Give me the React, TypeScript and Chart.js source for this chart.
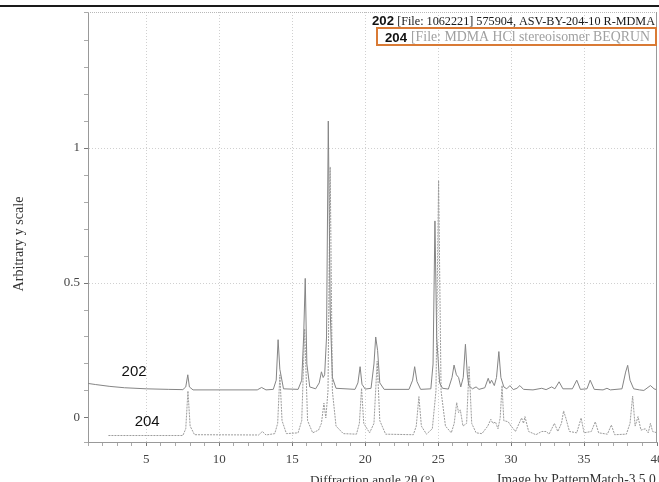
import React, { useEffect, useRef } from 'react';
import { Chart, registerables } from 'chart.js';

Chart.register(...registerables);

// ---- Data ----
const angles202 = [
  1.0, 1.5, 2.5, 3.5, 5, 6.5, 7.5, 7.7, 7.84, 7.95, 8.2, 12.6, 12.9, 13.2, 13.7, 13.9, 14.03, 14.15, 14.4,
  15.4, 15.65, 15.78, 15.89, 16.0, 16.2, 16.6, 16.85, 17.0, 17.12, 17.22, 17.35, 17.47, 17.6, 17.75, 18.0,
  19.3, 19.5, 19.65, 19.78, 20.0, 20.4, 20.6, 20.72, 20.85, 21.0, 21.3, 23.0, 23.25, 23.39, 23.55, 23.8,
  24.5, 24.65, 24.78, 24.9, 25.1, 25.3, 25.7, 25.95, 26.09, 26.25, 26.4, 26.55, 26.72, 26.87, 27.0, 27.1,
  27.35, 27.6, 27.8, 28.2, 28.43, 28.55, 28.66, 28.85, 29.0, 29.16, 29.3, 29.5, 29.7, 29.92, 30.15, 30.4,
  30.6, 30.85, 31.5, 32.1, 32.4, 32.78, 33.0, 33.29, 33.55, 34.2, 34.5, 34.75, 35.2, 35.42, 35.7, 36.3,
  36.57, 36.8, 37.6, 37.85, 37.99, 38.15, 38.4, 38.8, 39.1, 39.55, 39.8, 40.0,
];
const intensity202 = [
  0.128, 0.124, 0.117, 0.112, 0.108, 0.106, 0.105, 0.115, 0.16, 0.115, 0.104, 0.104, 0.113, 0.104, 0.106, 0.14, 0.29, 0.18, 0.108,
  0.106, 0.14, 0.3, 0.517, 0.2, 0.115, 0.108, 0.13, 0.171, 0.15, 0.16, 0.3, 1.1, 0.4, 0.15, 0.11,
  0.106, 0.13, 0.19, 0.125, 0.107, 0.11, 0.2, 0.3, 0.25, 0.13, 0.106, 0.106, 0.14, 0.19, 0.135, 0.106,
  0.108, 0.2, 0.73, 0.3, 0.13, 0.11, 0.107, 0.15, 0.196, 0.16, 0.15, 0.115, 0.15, 0.273, 0.16, 0.12,
  0.108, 0.115, 0.106, 0.112, 0.147, 0.128, 0.14, 0.12, 0.15, 0.246, 0.15, 0.115, 0.108, 0.12, 0.105, 0.11,
  0.12, 0.106, 0.104, 0.11, 0.105, 0.115, 0.108, 0.134, 0.108, 0.108, 0.14, 0.106, 0.108, 0.14, 0.106, 0.104,
  0.11, 0.104, 0.108, 0.17, 0.195, 0.14, 0.108, 0.104, 0.102, 0.12, 0.108, 0.104,
];

const angles204 = [
  2.4, 7.5, 7.7, 7.85, 8.0, 8.3, 12.7, 12.95, 13.2, 13.8, 14.0, 14.15, 14.3, 14.6, 15.4, 15.65, 15.85, 16.05,
  16.4, 16.8, 17.0, 17.17, 17.3, 17.45, 17.6, 17.75, 18.0, 18.5, 19.4, 19.6, 19.75, 19.9, 20.3, 20.6, 20.82,
  21.0, 21.4, 23.3, 23.5, 23.68, 23.85, 24.2, 24.6, 24.85, 25.03, 25.2, 25.5, 25.9, 26.1, 26.27, 26.4, 26.52,
  26.7, 26.95, 27.12, 27.3, 27.6, 28.0, 28.4, 28.61, 28.75, 28.93, 29.1, 29.25, 29.38, 29.5, 29.8, 30.0, 30.3,
  30.55, 30.72, 30.85, 30.95, 31.2, 31.7, 32.1, 32.4, 32.6, 32.97, 33.2, 33.45, 33.6, 33.75, 34.0, 34.5, 34.8,
  35.0, 35.5, 35.77, 36.0, 36.6, 36.87, 37.1, 37.9, 38.15, 38.33, 38.5, 38.7, 38.9, 39.2, 39.4, 39.55, 39.7, 40.0,
];
const intensity204 = [
  -0.065, -0.065, -0.04, 0.1, -0.03, -0.062, -0.063, -0.05, -0.063, -0.058, -0.02, 0.16, -0.01, -0.058, -0.055, -0.01, 0.33, -0.01,
  -0.055, -0.045, -0.02, 0.055, 0.0, 0.1, 0.93, 0.1, -0.03, -0.058, -0.06, -0.02, 0.11, -0.02, -0.055, -0.02, 0.21,
  -0.01, -0.06, -0.062, -0.03, 0.079, -0.03, -0.06, -0.04, 0.1, 0.88, 0.1, -0.03, -0.055, -0.02, 0.057, 0.02, 0.03,
  -0.03, -0.02, 0.19, -0.02, -0.055, -0.058, -0.03, -0.005, -0.02, -0.015, -0.04, 0.0, 0.12, -0.01, -0.014, -0.03, -0.05,
  -0.02, 0.0, -0.02, 0.005, -0.05, -0.062, -0.05, -0.05, -0.06, -0.02, -0.05, -0.02, 0.026, 0.0, -0.05, -0.055, 0.0,
  -0.055, -0.05, -0.014, -0.055, -0.06, -0.026, -0.062, -0.06, -0.02, 0.081, -0.03, 0.005, -0.045, -0.04, -0.055, -0.02, -0.05, -0.055,
];

const xMajorTicks = [5, 10, 15, 20, 25, 30, 35, 40];
const yMajorTicks = [0, 0.5, 1];
const yMajorLabels = ['0', '0.5', '1'];

const series202Name = '202';
const series204Name = '204';
const legend202Text = '[File: 1062221] 575904, ASV-BY-204-10 R-MDMA';
const legend204Text = '[File: MDMA HCl stereoisomer BEQRUN';
const xTitle = 'Diffraction angle 2θ (°)';
const creditText = 'Image by PatternMatch-3.5.0';
const yTitle = 'Arbitrary y scale';

const SERIF = '"Liberation Serif", "DejaVu Serif", serif';
const SANS = '"Liberation Sans", Arial, sans-serif';

function isMajor(v: number, list: number[]) {
  return list.some((m) => Math.abs(m - v) < 1e-6);
}

function fitText(
  ctx: CanvasRenderingContext2D,
  text: string,
  family: string,
  x: number,
  y: number,
  width: number,
  color: string,
  align: CanvasTextAlign = 'left',
  weight = 'normal',
) {
  ctx.font = `${weight} 20px ${family}`;
  const w = ctx.measureText(text).width;
  const size = (20 * width) / w;
  ctx.font = `${weight} ${size}px ${family}`;
  ctx.fillStyle = color;
  ctx.textAlign = align;
  ctx.textBaseline = 'alphabetic';
  ctx.fillText(text, x, y);
}

const overlayPlugin = {
  id: 'overlay',
  beforeDraw(chart: any) {
    const { ctx } = chart;
    ctx.save();
    ctx.fillStyle = '#ffffff';
    ctx.fillRect(0, 0, chart.width, chart.height);
    ctx.restore();
  },
  afterDraw(chart: any) {
    const { ctx, chartArea } = chart;
    const xs = chart.scales.x;
    const ys = chart.scales.y;
    ctx.save();
    // page rule at top
    ctx.fillStyle = '#1a1a1a';
    ctx.fillRect(0, 5, chart.width, 2);
    // frame top (dotted) and right
    ctx.strokeStyle = '#b8b8b8';
    ctx.lineWidth = 1;
    ctx.setLineDash([1, 1]);
    ctx.beginPath();
    ctx.moveTo(chartArea.left, chartArea.top + 0.5);
    ctx.lineTo(chartArea.right, chartArea.top + 0.5);
    ctx.stroke();
    ctx.setLineDash([]);
    ctx.strokeStyle = '#9a9a9a';
    ctx.beginPath();
    ctx.moveTo(chartArea.right - 0.5, chartArea.top);
    ctx.lineTo(chartArea.right - 0.5, chartArea.bottom);
    ctx.stroke();

    // legend block
    fitText(ctx, series202Name, SANS, 372, 25, 22, '#111', 'left', 'bold');
    fitText(ctx, legend202Text, SERIF, 655, 25, 258, '#1a1a1a', 'right');
    ctx.strokeStyle = '#d97a35';
    ctx.lineWidth = 2;
    ctx.strokeRect(377, 28, 279, 17);
    fitText(ctx, series204Name, SANS, 385, 42, 22, '#111', 'left', 'bold');
    fitText(ctx, legend204Text, SERIF, 411, 41, 239, '#a0a0a0');

    // series labels in plot
    ctx.font = `15px ${SANS}`;
    ctx.fillStyle = '#111';
    ctx.textAlign = 'left';
    ctx.textBaseline = 'middle';
    ctx.fillText(series202Name, xs.getPixelForValue(3.3), ys.getPixelForValue(0.172));
    ctx.fillText(series204Name, xs.getPixelForValue(4.2), ys.getPixelForValue(-0.014));

    // axis titles
    fitText(ctx, xTitle, SERIF, 310, 484, 125, '#333');
    fitText(ctx, creditText, SERIF, 497, 484, 159, '#333');
    ctx.translate(23, 244);
    ctx.rotate(-Math.PI / 2);
    fitText(ctx, yTitle, SERIF, 0, 0, 95, '#333', 'center');
    ctx.restore();
  },
};

export default function App() {
  const canvasRef = useRef<HTMLCanvasElement | null>(null);

  useEffect(() => {
    const canvas = canvasRef.current;
    if (!canvas) return;
    const chart = new Chart(canvas, {
      type: 'line',
      data: {
        datasets: [
          {
            label: series202Name,
            data: angles202.map((x, i) => ({ x, y: intensity202[i] })),
            borderColor: '#858585',
            borderWidth: 1,
            pointRadius: 0,
            tension: 0,
          },
          {
            label: series204Name,
            data: angles204.map((x, i) => ({ x, y: intensity204[i] })),
            borderColor: '#9c9c9c',
            borderWidth: 1,
            borderDash: [2, 1],
            pointRadius: 0,
            tension: 0,
          },
        ],
      },
      options: {
        responsive: false,
        animation: false,
        layout: { padding: { top: 12, right: 2, left: 0, bottom: 0 } },
        plugins: { legend: { display: false }, tooltip: { enabled: false } },
        scales: {
          x: {
            type: 'linear',
            min: 1,
            max: 40,
            afterFit: (s: any) => {
              s.height = 40;
              s.paddingLeft = 0;
              s.paddingRight = 0;
            },
            ticks: {
              stepSize: 1,
              autoSkip: false,
              maxRotation: 0,
              padding: 6,
              color: '#444',
              font: { family: SERIF, size: 13 },
              callback: (v: any) => (isMajor(Number(v), xMajorTicks) ? String(Math.round(Number(v))) : ''),
            },
            grid: {
              tickLength: 4,
              color: (c: any) => (c.tick && isMajor(c.tick.value, xMajorTicks) && c.tick.value < 40 ? '#d0d0d0' : 'rgba(0,0,0,0)'),
              tickColor: (c: any) => (c.tick && isMajor(c.tick.value, xMajorTicks) ? '#777' : '#aaa'),
            },
            border: { color: '#999', width: 1, dash: [1, 2] },
          },
          y: {
            type: 'linear',
            min: -0.089,
            max: 1.504,
            afterFit: (s: any) => {
              s.width = 88;
              s.paddingTop = 0;
              s.paddingBottom = 0;
            },
            ticks: {
              stepSize: 0.1,
              autoSkip: false,
              padding: 4,
              color: '#444',
              font: { family: SERIF, size: 13 },
              callback: (v: any) => {
                const n = Number(v);
                const idx = yMajorTicks.findIndex((m) => Math.abs(m - n) < 1e-6);
                return idx >= 0 ? yMajorLabels[idx] : '';
              },
            },
            grid: {
              tickLength: 4,
              color: (c: any) => (c.tick && isMajor(c.tick.value, yMajorTicks) && Math.abs(c.tick.value) > 1e-6 ? '#d0d0d0' : 'rgba(0,0,0,0)'),
              tickColor: (c: any) => (c.tick && isMajor(c.tick.value, yMajorTicks) ? '#777' : '#aaa'),
            },
            border: { color: '#999', width: 1, dash: [1, 2] },
          },
        },
      },
      plugins: [overlayPlugin],
    } as any);
    return () => chart.destroy();
  }, []);

  return (
    <div style={{ position: 'fixed', left: 0, top: 0, width: 659, height: 482, overflow: 'hidden', background: '#fff' }}>
      <canvas ref={canvasRef} width={659} height={482} style={{ display: 'block' }} />
    </div>
  );
}
